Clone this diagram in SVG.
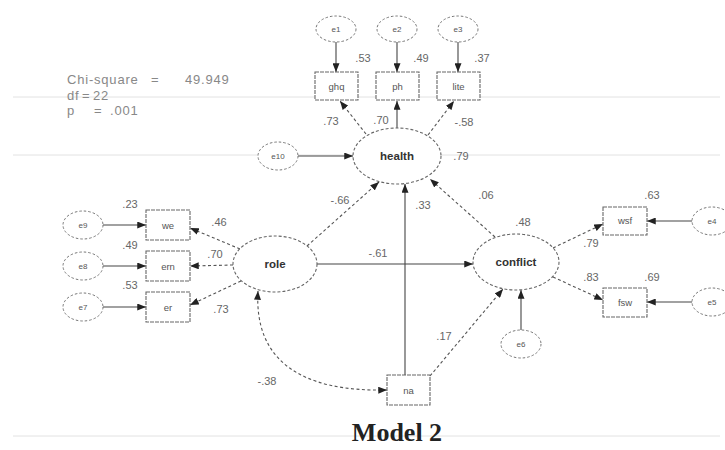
<svg xmlns="http://www.w3.org/2000/svg" width="725" height="450" viewBox="0 0 725 450">
<defs>
<marker id="ah" viewBox="0 0 10 8" refX="10" refY="4" markerWidth="9" markerHeight="7" markerUnits="userSpaceOnUse" orient="auto-start-reverse">
<path d="M0,0 L10,4 L0,8 Z" fill="#222"/>
</marker>
<style>
.bg{stroke:#e2e2e2;stroke-width:1;fill:none}
.lat{fill:#fff;stroke:#666;stroke-width:1.1;stroke-dasharray:3,2}
.err{fill:#fff;stroke:#777;stroke-width:1;stroke-dasharray:2.5,2}
.obs{fill:#fff;stroke:#666;stroke-width:1.1;stroke-dasharray:4,1}
.s{stroke:#444;stroke-width:1.1;fill:none;marker-end:url(#ah)}
.d{stroke:#555;stroke-width:1.1;fill:none;stroke-dasharray:3,2.5;marker-end:url(#ah)}
text{font-family:"Liberation Sans",Arial,sans-serif}
.big{font-size:11.5px;font-weight:bold;fill:#333;text-anchor:middle}
.sm{font-size:9.5px;fill:#555;text-anchor:middle}
.e{font-size:8px;fill:#555;text-anchor:middle}
.lab{font-size:11px;fill:#666;text-anchor:middle}
.st{font-size:13px;fill:#888;letter-spacing:0.8px}
</style>
</defs>
<rect width="725" height="450" fill="#fff"/>
<g id="background">
<line class="bg" x1="13" y1="97" x2="720" y2="97"/>
<line class="bg" x1="13" y1="155" x2="720" y2="155"/>
<line class="bg" x1="13" y1="436" x2="720" y2="436"/>
</g>
<g id="connectors">
<line class="s" x1="336" y1="42" x2="336" y2="72"/>
<line class="s" x1="397" y1="42" x2="397" y2="72"/>
<line class="s" x1="458" y1="42" x2="458" y2="72"/>
<line class="d" x1="366" y1="134" x2="340" y2="101"/>
<line class="s" x1="397" y1="128" x2="397" y2="101"/>
<line class="d" x1="428" y1="135" x2="454" y2="101"/>
<line class="s" x1="298" y1="156" x2="353" y2="156"/>
<line class="d" x1="307" y1="246" x2="379" y2="182"/>
<line class="s" x1="405" y1="375" x2="405" y2="184"/>
<line class="d" x1="495" y1="237" x2="430" y2="179"/>
<line class="s" x1="317" y1="264" x2="473" y2="264"/>
<line class="d" x1="430" y1="376" x2="503" y2="289"/>
<line class="s" x1="521" y1="330" x2="521" y2="290"/>
<path class="d" d="M387,390 C300,392 254,360 258,291" marker-start="url(#ah)"/>
<line class="s" x1="103" y1="225" x2="146" y2="225"/>
<line class="s" x1="103" y1="266" x2="146" y2="266"/>
<line class="s" x1="103" y1="307" x2="146" y2="307"/>
<line class="d" x1="240" y1="249" x2="190" y2="228"/>
<line class="d" x1="233" y1="265" x2="190" y2="266"/>
<line class="d" x1="241" y1="281" x2="190" y2="305"/>
<line class="s" x1="692" y1="221" x2="647" y2="221"/>
<line class="s" x1="692" y1="302" x2="647" y2="302"/>
<line class="d" x1="553" y1="248" x2="603" y2="224"/>
<line class="d" x1="553" y1="277" x2="603" y2="300"/>
</g>
<g id="e1"><ellipse class="err" cx="336" cy="29" rx="20" ry="13"/><text class="e" x="336" y="32">e1</text></g>
<g id="e2"><ellipse class="err" cx="397" cy="29" rx="20" ry="13"/><text class="e" x="397" y="32">e2</text></g>
<g id="e3"><ellipse class="err" cx="458" cy="29" rx="20" ry="13"/><text class="e" x="458" y="32">e3</text></g>
<g id="ghq"><rect class="obs" x="315" y="72" width="43" height="28"/><text class="sm" x="336.5" y="90">ghq</text></g>
<g id="ph"><rect class="obs" x="376" y="72" width="43" height="28"/><text class="sm" x="397.5" y="90">ph</text></g>
<g id="lite"><rect class="obs" x="437" y="72" width="43" height="28"/><text class="sm" x="458.5" y="90">lite</text></g>
<g id="e10"><ellipse class="err" cx="278" cy="156" rx="20" ry="14"/><text class="e" x="278" y="159">e10</text></g>
<g id="health"><ellipse class="lat" cx="397" cy="156" rx="44" ry="28"/><text class="big" x="397" y="160">health</text></g>
<g id="role"><ellipse class="lat" cx="275" cy="264" rx="42" ry="28"/><text class="big" x="275" y="268">role</text></g>
<g id="conflict"><ellipse class="lat" cx="516" cy="262" rx="43" ry="28"/><text class="big" x="516" y="266">conflict</text></g>
<g id="na"><rect class="obs" x="387" y="375" width="43" height="30"/><text class="sm" x="408.5" y="394">na</text></g>
<g id="e6"><ellipse class="err" cx="521" cy="344" rx="20" ry="14"/><text class="e" x="521" y="347">e6</text></g>
<g id="we"><rect class="obs" x="146" y="210" width="44" height="30"/><text class="sm" x="168" y="229">we</text></g>
<g id="ern"><rect class="obs" x="146" y="251" width="44" height="30"/><text class="sm" x="168" y="270">ern</text></g>
<g id="er"><rect class="obs" x="146" y="292" width="44" height="30"/><text class="sm" x="168" y="311">er</text></g>
<g id="e9"><ellipse class="err" cx="83" cy="225" rx="20" ry="14"/><text class="e" x="83" y="228">e9</text></g>
<g id="e8"><ellipse class="err" cx="83" cy="266" rx="20" ry="14"/><text class="e" x="83" y="269">e8</text></g>
<g id="e7"><ellipse class="err" cx="83" cy="307" rx="20" ry="14"/><text class="e" x="83" y="310">e7</text></g>
<g id="wsf"><rect class="obs" x="603" y="207" width="44" height="28"/><text class="sm" x="625" y="224">wsf</text></g>
<g id="fsw"><rect class="obs" x="603" y="288" width="44" height="29"/><text class="sm" x="625" y="306">fsw</text></g>
<g id="e4"><ellipse class="err" cx="712" cy="221" rx="20" ry="14"/><text class="e" x="712" y="224">e4</text></g>
<g id="e5"><ellipse class="err" cx="712" cy="302" rx="20" ry="14"/><text class="e" x="712" y="305">e5</text></g>
<g id="labels">
<text class="lab" x="363" y="62">.53</text>
<text class="lab" x="421" y="62">.49</text>
<text class="lab" x="482" y="62">.37</text>
<text class="lab" x="331" y="125">.73</text>
<text class="lab" x="381" y="124">.70</text>
<text class="lab" x="464" y="126">-.58</text>
<text class="lab" x="461" y="160">.79</text>
<text class="lab" x="340" y="204">-.66</text>
<text class="lab" x="423" y="209">.33</text>
<text class="lab" x="486" y="199">.06</text>
<text class="lab" x="523" y="226">.48</text>
<text class="lab" x="378" y="257">-.61</text>
<text class="lab" x="444" y="340">.17</text>
<text class="lab" x="267" y="385">-.38</text>
<text class="lab" x="130" y="208">.23</text>
<text class="lab" x="130" y="249">.49</text>
<text class="lab" x="130" y="289">.53</text>
<text class="lab" x="219" y="226">.46</text>
<text class="lab" x="215" y="258">.70</text>
<text class="lab" x="221" y="313">.73</text>
<text class="lab" x="652" y="199">.63</text>
<text class="lab" x="591" y="247">.79</text>
<text class="lab" x="591" y="281">.83</text>
<text class="lab" x="652" y="281">.69</text>
</g>
<g id="fit">
<text class="st" y="84"><tspan x="67">Chi-square</tspan><tspan x="151">=</tspan><tspan x="185">49.949</tspan></text>
<text class="st" y="100"><tspan x="67">df</tspan><tspan x="82">=</tspan><tspan x="93">22</tspan></text>
<text class="st" y="115"><tspan x="67">p</tspan><tspan x="94">=</tspan><tspan x="110">.001</tspan></text>
</g>
<text id="title" x="397" y="441" text-anchor="middle" style="font-family:'Liberation Serif','Times New Roman',serif;font-size:26px;font-weight:bold;fill:#222">Model 2</text>
</svg>
